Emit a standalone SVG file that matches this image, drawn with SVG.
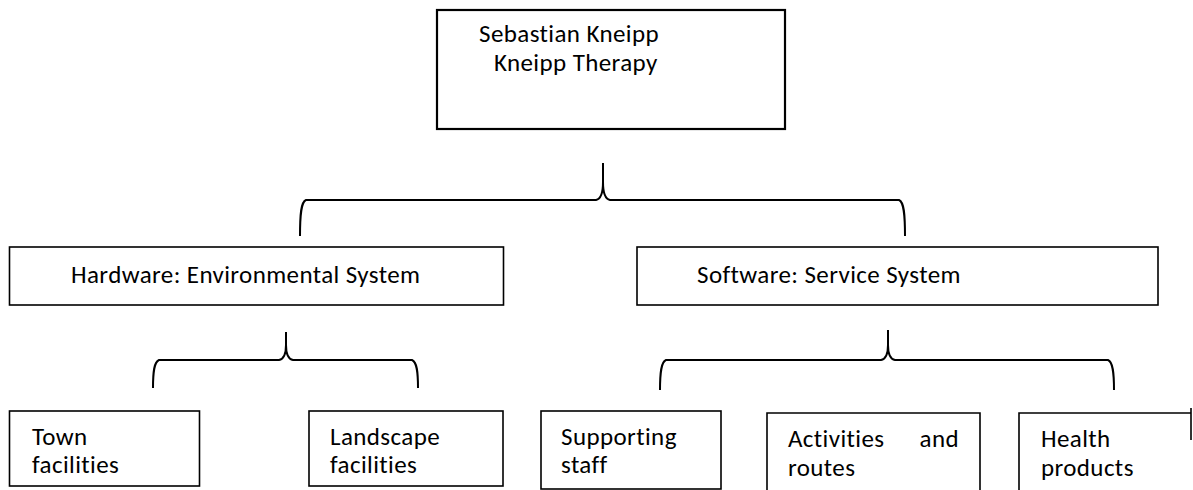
<svg xmlns="http://www.w3.org/2000/svg" width="1193" height="490" viewBox="0 0 1193 490">
<style>
.box{fill:#fff;stroke:#000;stroke-width:1.6}
.edge{fill:none;stroke:#000;stroke-width:1.6}
.br{fill:none;stroke:#000;stroke-width:2;stroke-linejoin:round}
text{font-family:Carlito,Lato,"Open Sans",sans-serif;font-size:25px;letter-spacing:0.4px;fill:#000}
</style>
<rect width="1193" height="490" fill="#fff"/>
<g id="connectors">
<path class="br" d="M300,236 C300,214 301,202 306,200 L596,200 C601,199 603,192 603,182 L603,163 M603,182 C603,192 605,199 610,200 L899,200 C904,202 905,214 905,236"/>
<path class="br" d="M153,388 C153,372 154,362 159,360 L279,360 C284,359 286,352 286,345 L286,332 M286,345 C286,352 288,359 293,360 L412,360 C417,362 418,372 418,388"/>
<path class="br" d="M660,390 C660,373 661,362 666,360 L881,360 C886,359 888,352 888,345 L888,330 M888,345 C888,352 890,359 895,360 L1108,360 C1113,362 1114,373 1114,390"/>
</g>
<g id="root">
<rect class="box" x="437" y="10" width="348" height="119" style="stroke-width:2.2"/>
<text x="479" y="42">Sebastian Kneipp</text>
<text x="494" y="70.5">Kneipp Therapy</text>
</g>
<g id="hardware">
<rect class="box" x="9.5" y="247" width="494" height="58"/>
<text x="71" y="283">Hardware: Environmental System</text>
</g>
<g id="software">
<rect class="box" x="637" y="247" width="521" height="58"/>
<text x="697" y="283">Software: Service System</text>
</g>
<g id="town">
<rect class="box" x="9.5" y="411" width="190" height="75"/>
<text x="32" y="445">Town</text>
<text x="32" y="473">facilities</text>
</g>
<g id="landscape">
<rect class="box" x="309" y="411" width="194" height="75"/>
<text x="330" y="445">Landscape</text>
<text x="330" y="473">facilities</text>
</g>
<g id="supporting">
<rect class="box" x="541" y="411" width="180" height="78"/>
<text x="561" y="445">Supporting</text>
<text x="561" y="473">staff</text>
</g>
<g id="activities">
<path class="edge" d="M767,492 V413 H980 V492"/>
<text x="788" y="447">Activities</text>
<text x="959" y="447" text-anchor="end">and</text>
<text x="788" y="476">routes</text>
</g>
<g id="health">
<path class="edge" d="M1019,492 V413 H1191"/>
<path class="edge" d="M1191,408 V440"/>
<text x="1041" y="447">Health</text>
<text x="1041" y="476">products</text>
</g>
</svg>
